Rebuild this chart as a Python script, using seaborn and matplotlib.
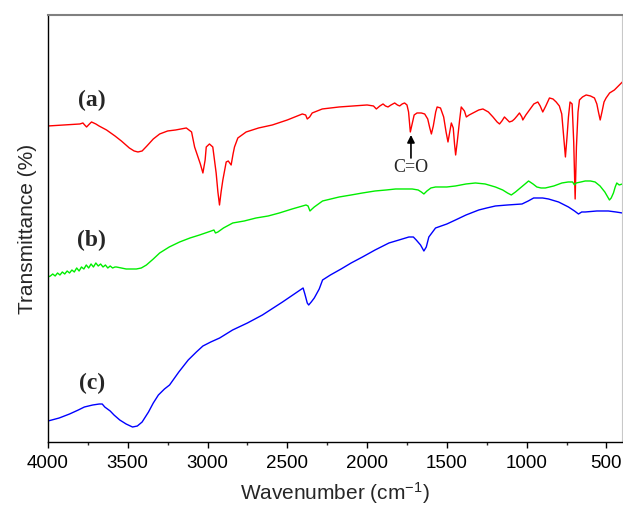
import numpy as np
import pandas as pd
import seaborn as sns
import matplotlib.pyplot as plt
from matplotlib.ticker import MultipleLocator

# spectra (arbitrary transmittance units, curves offset)
wn_a = [4000, 3900, 3800, 3781, 3770, 3758, 3740, 3727, 3700, 3680, 3633, 3580,
        3540, 3490, 3460, 3436, 3410, 3380, 3340, 3300, 3250, 3200, 3133, 3100,
        3081, 3060, 3045, 3029, 3015, 3008, 2988, 2967, 2946, 2935, 2925, 2915,
        2904, 2883, 2870, 2852, 2840, 2831, 2810, 2758, 2680, 2594, 2500, 2406,
        2385, 2375, 2360, 2344, 2281, 2175, 2000, 1960, 1942, 1920, 1900, 1885,
        1869, 1850, 1827, 1810, 1796, 1780, 1765, 1750, 1740, 1729, 1718, 1705,
        1687, 1660, 1639, 1620, 1607, 1597, 1585, 1570, 1561, 1540, 1520, 1505,
        1493, 1482, 1472, 1460, 1452, 1445, 1435, 1420, 1410, 1390, 1378, 1360,
        1336, 1300, 1274, 1240, 1211, 1185, 1170, 1155, 1139, 1120, 1108, 1090,
        1076, 1060, 1045, 1030, 1024, 1005, 982, 955, 930, 915, 899, 880, 857,
        835, 815, 795, 780, 768, 757, 747, 738, 728, 715, 705, 696, 688, 678, 669,
        650, 627, 600, 575, 560, 550, 539, 528, 515, 502, 480, 450, 425, 400]
tr_a = [316, 317, 318, 319, 317, 315, 318, 320, 318, 316, 312, 306,
        301, 294, 291, 290, 291, 296, 303, 308, 311, 312, 314, 310,
        295, 285, 278, 269, 282, 295, 298, 295, 269, 250, 237, 250,
        262, 280, 281, 277, 288, 295, 304, 310, 314, 317, 322, 328,
        327, 323, 325, 329, 333, 335, 337, 336, 333, 336, 338, 336,
        335, 337, 339, 337, 336, 338, 339, 337, 330, 310, 318, 327,
        329, 329, 328, 323, 314, 308, 316, 330, 335, 334, 325, 310,
        300, 310, 319, 314, 298, 287, 300, 322, 335, 331, 325, 327,
        329, 332, 333, 330, 325, 320, 318, 321, 325, 322, 320, 321,
        323, 326, 329, 325, 322, 327, 332, 338, 340, 336, 330, 336, 344,
        343, 340, 336, 328, 305, 285, 305, 325, 340, 338, 300, 243, 295, 330, 342,
        345, 347, 346, 344, 338, 330, 322, 330, 340, 344, 349, 352, 356, 360]

wn_b = [4000, 3985, 3970, 3955, 3940, 3925, 3910, 3895, 3880, 3865, 3850, 3835,
        3820, 3805, 3790, 3775, 3760, 3745, 3730, 3715, 3700, 3685, 3670, 3655,
        3640, 3625, 3610, 3595, 3580, 3571, 3540, 3510, 3480, 3446, 3415, 3383,
        3340, 3300, 3240, 3175, 3110, 3050, 2977, 2960, 2950, 2935, 2900, 2842,
        2770, 2696, 2620, 2550, 2470, 2383, 2370, 2358, 2345, 2331, 2279, 2175,
        2100, 2029, 1950, 1880, 1821, 1760, 1717, 1680, 1660, 1644, 1625, 1600,
        1571, 1500, 1446, 1380, 1321, 1260, 1196, 1150, 1120, 1096, 1070, 1040,
        1010, 988, 960, 936, 910, 883, 830, 779, 740, 712, 700, 690, 660, 633,
        600, 571, 540, 510, 481, 470, 456, 445, 435, 420, 400]
tr_b = [165, 166, 168, 166, 169, 167, 170, 168, 171, 169, 172, 170,
        174, 171, 175, 173, 177, 174, 178, 175, 179, 176, 178, 175,
        177, 174, 176, 174, 175, 175, 174, 173, 173, 173, 174, 177,
        183, 189, 195, 200, 204, 207, 211, 212, 209, 210, 214, 219,
        221, 224, 226, 229, 233, 237, 236, 231, 233, 235, 241, 245,
        247, 249, 251, 252, 253, 253, 253, 252, 250, 248, 251, 254,
        255, 255, 256, 258, 259, 258, 255, 252, 249, 247, 250, 254,
        258, 261, 258, 255, 254, 254, 256, 259, 260, 260, 257, 259, 260, 261,
        261, 260, 256, 250, 242, 244, 249, 255, 259, 257, 258]

wn_c = [4000, 3930, 3865, 3810, 3772, 3720, 3679, 3660, 3644, 3610, 3586, 3550,
        3510, 3470, 3440, 3410, 3370, 3340, 3308, 3270, 3238, 3180, 3121, 3070,
        3029, 2980, 2924, 2843, 2750, 2656, 2530, 2401, 2390, 2375, 2366, 2350,
        2331, 2300, 2279, 2230, 2163, 2100, 2029, 1950, 1863, 1800, 1738, 1710,
        1692, 1665, 1644, 1629, 1613, 1571, 1500, 1446, 1380, 1300, 1250, 1196,
        1120, 1029, 990, 956, 900, 863, 800, 738, 700, 675, 655, 633, 560, 488,
        440, 400]
tr_c = [21, 24, 28, 32, 35, 37, 38, 38, 35, 31, 27, 22,
        18, 15, 16, 20, 30, 39, 47, 53, 57, 70, 82, 90,
        96, 100, 104, 112, 119, 127, 140, 154, 148, 139, 137, 140,
        144, 153, 162, 167, 173, 179, 185, 192, 199, 202, 205, 205,
        202, 197, 191, 195, 205, 214, 218, 222, 227, 232, 234, 236,
        237, 238, 241, 244, 244, 243, 240, 235, 231, 228, 230, 230, 231, 231,
        230, 229]

labels = ["(a)", "(b)", "(c)"]
label_y = [342, 202, 59]
colors = ["#ff0000", "#00ee00", "#0000ff"]

sns.set_style("white")
plt.rcParams["font.family"] = ["Liberation Sans", "DejaVu Sans"]
plt.rcParams["mathtext.fontset"] = "custom"
plt.rcParams["mathtext.rm"] = "Liberation Sans"
plt.rcParams["mathtext.it"] = "Liberation Sans:italic"

fig = plt.figure(figsize=(6.23, 5.09), dpi=100)
ax = fig.add_axes([0.077, 0.1316, 0.922, 0.839])

for wn, tr, c in zip([wn_a, wn_b, wn_c], [tr_a, tr_b, tr_c], colors):
    df = pd.DataFrame({"wn": wn, "tr": tr})
    sns.lineplot(data=df, x="wn", y="tr", color=c, linewidth=1.0,
                 sort=False, estimator=None, ax=ax)

for lab, ly in zip(labels, label_y):
    ax.text(3725, ly, lab, fontsize=17, fontweight="bold",
            family="Liberation Serif", ha="center", va="center")

# C=O marker
ax.text(1725, 274, "C=O", ha="center", va="center", fontsize=13,
        family="Liberation Serif")
ax.annotate("", xy=(1725, 307), xytext=(1725, 284),
            arrowprops=dict(arrowstyle="-|>", color="black", lw=1.2,
                            mutation_scale=11, shrinkA=0, shrinkB=0))

ax.set_xlim(4000, 400)
ax.set_ylim(0, 427)
ax.set_yticks([])
ax.xaxis.set_major_locator(MultipleLocator(500))
ax.xaxis.set_minor_locator(MultipleLocator(250))
ax.tick_params(axis="x", which="major", direction="out", length=4, width=1,
               bottom=True, labelsize=13.5, colors="black", pad=5)
ax.tick_params(axis="x", which="minor", direction="out", length=2.5, width=1,
               bottom=True)
ax.set_xlabel("Wavenumber (cm$^{-1}$)", fontsize=15, labelpad=6)
ax.set_ylabel("Transmittance (%)", fontsize=15, labelpad=8)

for s in ["left", "bottom"]:
    ax.spines[s].set_color("black")
    ax.spines[s].set_linewidth(1.0)
ax.spines["top"].set_color("#808080")
ax.spines["top"].set_linewidth(1.5)
ax.spines["right"].set_color("#c8c8c8")

fig.savefig("out.png", dpi=100)
